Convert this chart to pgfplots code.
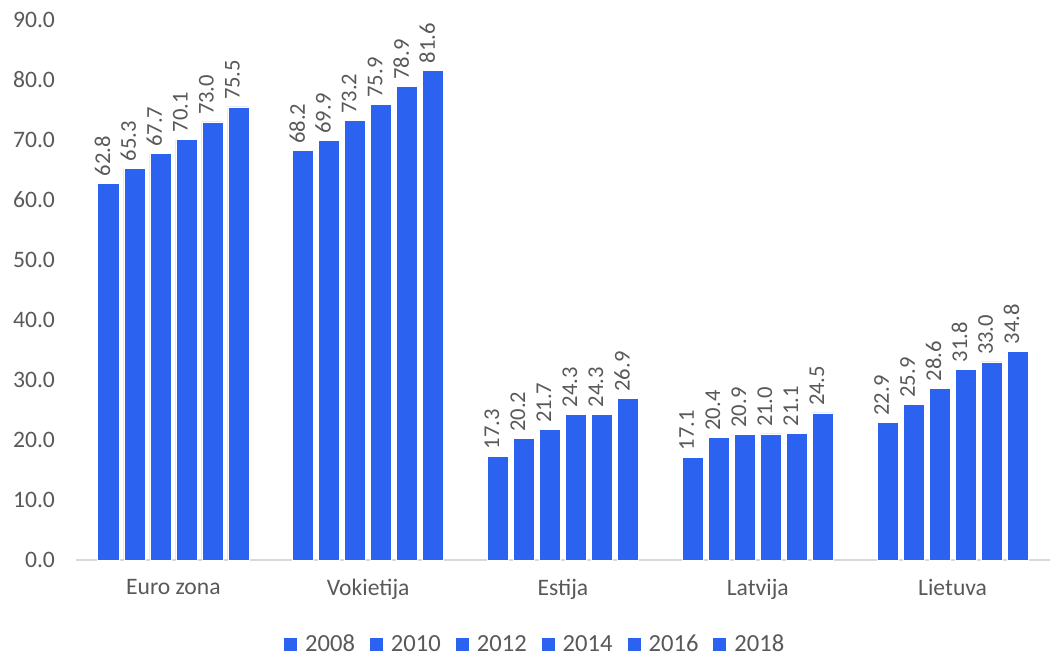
\documentclass[border=0pt]{standalone}
\usepackage{pgfplots}
\pgfplotsset{compat=1.18}
\usepackage{fontspec}
\setmainfont{Carlito}
\definecolor{barblue}{RGB}{43,98,240}
\definecolor{txtgray}{RGB}{89,89,89}
\definecolor{axgray}{RGB}{217,217,217}
\pgfplotsset{bluebar/.style={fill=barblue, draw=white, line width=0.4pt}}
\begin{document}
\begin{tikzpicture}
\begin{axis}[
  name=ax,
  width=487pt, height=270pt, scale only axis,
  ybar=2.5pt, bar width=10.5pt,
  xmin=-0.5, xmax=4.5,
  ymin=0, ymax=90,
  xtick=data,
  xticklabels={Euro zona, Vokietija, Estija, Latvija, Lietuva},
  ytick={0,10,...,90},
  yticklabel style={/pgf/number format/fixed, /pgf/number format/fixed zerofill, /pgf/number format/precision=1},
  /pgf/number format/assume math mode=true,
  major tick length=0pt,
  axis x line*=bottom, axis y line*=left,
  y axis line style={draw=none},
  x axis line style={draw=axgray, line width=0.8pt},
  tick label style={font=\fontsize{11.8}{13}\selectfont, text=txtgray},
  yticklabel style={xshift=-7pt},
  xticklabel style={yshift=-6pt},
  clip=false,
  nodes near coords,
  nodes near coords style={/pgf/number format/fixed, /pgf/number format/fixed zerofill, /pgf/number format/precision=1},
  every node near coord/.append style={rotate=90, anchor=west, yshift=3pt, font=\fontsize{11.3}{12}\selectfont, text=txtgray},
  legend columns=6,
  legend style={draw=none, fill=none, at={(0.472,-0.157)}, anchor=center,
    font=\fontsize{12.3}{13}\selectfont, text=txtgray,
    /tikz/every odd column/.append style={column sep=2.5pt},
    /tikz/every even column/.append style={column sep=6pt},
    nodes={inner sep=1.5pt}},
  legend image code/.code={\fill[#1, draw=none] (0pt,-3.25pt) rectangle (6.5pt,3.25pt);},
]
\addplot[bluebar] coordinates {(0,62.8) (1,68.2) (2,17.3) (3,17.1) (4,22.9)};
\addplot[bluebar] coordinates {(0,65.3) (1,69.9) (2,20.2) (3,20.4) (4,25.9)};
\addplot[bluebar] coordinates {(0,67.7) (1,73.2) (2,21.7) (3,20.9) (4,28.6)};
\addplot[bluebar] coordinates {(0,70.1) (1,75.9) (2,24.3) (3,21.0) (4,31.8)};
\addplot[bluebar] coordinates {(0,73.0) (1,78.9) (2,24.3) (3,21.1) (4,33.0)};
\addplot[bluebar] coordinates {(0,75.5) (1,81.6) (2,26.9) (3,24.5) (4,34.8)};
\legend{2008,2010,2012,2014,2016,2018}
\end{axis}
\pgfresetboundingbox
\path[use as bounding box] ([xshift=-38pt,yshift=-47.5pt]ax.south west) rectangle ([yshift=10pt]ax.north east);
\end{tikzpicture}
\end{document}
